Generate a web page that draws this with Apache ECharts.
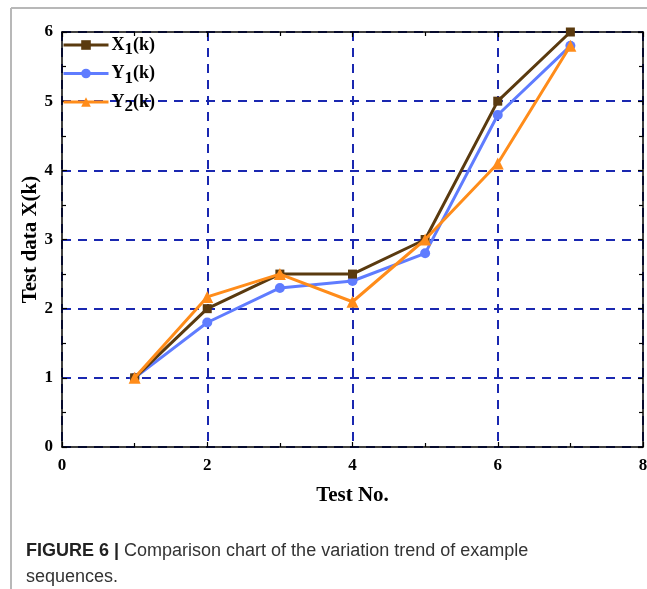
<!DOCTYPE html>
<html>
<head>
<meta charset="utf-8">
<script src="https://cdn.jsdelivr.net/npm/echarts@6/dist/echarts.min.js"></script>
<style>
  html, body { margin: 0; padding: 0; background: #fff; }
  #chart { width: 647px; height: 589px; }
</style>
</head>
<body>
<div id="chart"></div>
<script>
const testNo = [1, 2, 3, 4, 5, 6, 7];
const x1 = [1, 2, 2.5, 2.5, 3, 5, 6];
const y1 = [1, 1.8, 2.3, 2.4, 2.8, 4.8, 5.8];
const y2 = [1, 2.17, 2.5, 2.1, 3, 4.1, 5.8];
const legendNames = ['X1(k)', 'Y1(k)', 'Y2(k)'];

const serif = '"Liberation Serif", "Times New Roman", serif';
const pair = arr => arr.map((v, i) => [testNo[i], v]);

const chart = echarts.init(document.getElementById('chart'));

const split = { show: true, lineStyle: { color: '#1a28b0', width: 2, type: [9, 7] } };
const boxLine = { show: true, onZero: false, lineStyle: { color: '#000', width: 1.5 } };

const xBase = {
  type: 'value', min: 0, max: 8, interval: 2,
  axisLine: boxLine,
  axisTick: { show: true, inside: true, length: 5, lineStyle: { color: '#000', width: 1.2 } },
  minorTick: { show: true, splitNumber: 2, length: 4, lineStyle: { color: '#000', width: 1.2 } }
};
const yBase = {
  type: 'value', min: 0, max: 6, interval: 1,
  axisLine: boxLine,
  axisTick: { show: true, inside: true, length: 5, lineStyle: { color: '#000', width: 1.2 } },
  minorTick: { show: true, splitNumber: 2, length: 4, lineStyle: { color: '#000', width: 1.2 } }
};

const legendRich = {
  b: { fontFamily: serif, fontWeight: 'bold', fontSize: 18, color: '#000' },
  s: { fontFamily: serif, fontWeight: 'bold', fontSize: 17, color: '#000', padding: [10, 0, 0, 0] }
};

chart.setOption({
  animation: false,
  backgroundColor: '#fff',
  grid: { left: 62, right: 4, top: 32, bottom: 142, outerBoundsMode: 'none', containLabel: false },
  legend: {
    data: legendNames,
    orient: 'vertical',
    left: 62, top: 36, padding: 0,
    itemWidth: 45, itemHeight: 12, itemGap: 6,
    lineStyle: { width: 3 },
    formatter: n => '{b|' + n[0] + '}{s|' + n[1] + '}{b|' + n.slice(2) + '}',
    textStyle: { rich: legendRich, padding: [0, 0, 0, -2] }
  },
  xAxis: [
    Object.assign({}, xBase, {
      position: 'bottom',
      name: 'Test No.', nameLocation: 'middle', nameGap: 38,
      nameTextStyle: { fontFamily: serif, fontWeight: 'bold', fontSize: 21, color: '#000' },
      axisLabel: { fontFamily: serif, fontWeight: 'bold', fontSize: 17, color: '#000', margin: 10 },
      splitLine: split
    }),
    Object.assign({}, xBase, {
      position: 'top', axisLabel: { show: false }, splitLine: { show: false }
    })
  ],
  yAxis: [
    Object.assign({}, yBase, {
      position: 'left',
      name: 'Test data X(k)', nameLocation: 'middle', nameGap: 21, nameMoveOverlap: false,
      nameTextStyle: { fontFamily: serif, fontWeight: 'bold', fontSize: 21, color: '#000' },
      axisLabel: { fontFamily: serif, fontWeight: 'bold', fontSize: 17, color: '#000', margin: 9 },
      splitLine: split
    }),
    Object.assign({}, yBase, {
      position: 'right', axisLabel: { show: false }, splitLine: { show: false }
    })
  ],
  series: [
    {
      name: legendNames[0], type: 'line', data: pair(x1),
      symbol: 'rect', symbolSize: 9,
      lineStyle: { color: '#5a3a0f', width: 3 },
      itemStyle: { color: '#5a3a0f' }, z: 3
    },
    {
      name: legendNames[1], type: 'line', data: pair(y1),
      symbol: 'circle', symbolSize: 10,
      lineStyle: { color: '#5f7cff', width: 3 },
      itemStyle: { color: '#5f7cff' }, z: 2
    },
    {
      name: legendNames[2], type: 'line', data: pair(y2),
      symbol: 'triangle', symbolSize: 12,
      lineStyle: { color: '#ff8c1a', width: 3 },
      itemStyle: { color: '#ff8c1a' }, z: 4
    }
  ],
  graphic: [
    { type: 'line', shape: { x1: 11, y1: 8, x2: 647, y2: 8 }, style: { stroke: '#b8b8b8', lineWidth: 2 } },
    { type: 'line', shape: { x1: 11, y1: 8, x2: 11, y2: 589 }, style: { stroke: '#b8b8b8', lineWidth: 2 } },
    {
      type: 'text', left: 26, top: 542,
      style: {
        text: '{b|FIGURE 6 |} Comparison chart of the variation trend of example',
        rich: {
          b: { fontFamily: '"Liberation Sans", Arial, sans-serif', fontWeight: 'bold', fontSize: 18, fill: '#222' }
        },
        font: '18px "Liberation Sans", Arial, sans-serif', fill: '#333'
      }
    },
    {
      type: 'text', left: 26, top: 568,
      style: { text: 'sequences.', font: '18px "Liberation Sans", Arial, sans-serif', fill: '#333' }
    }
  ]
});
</script>
</body>
</html>
